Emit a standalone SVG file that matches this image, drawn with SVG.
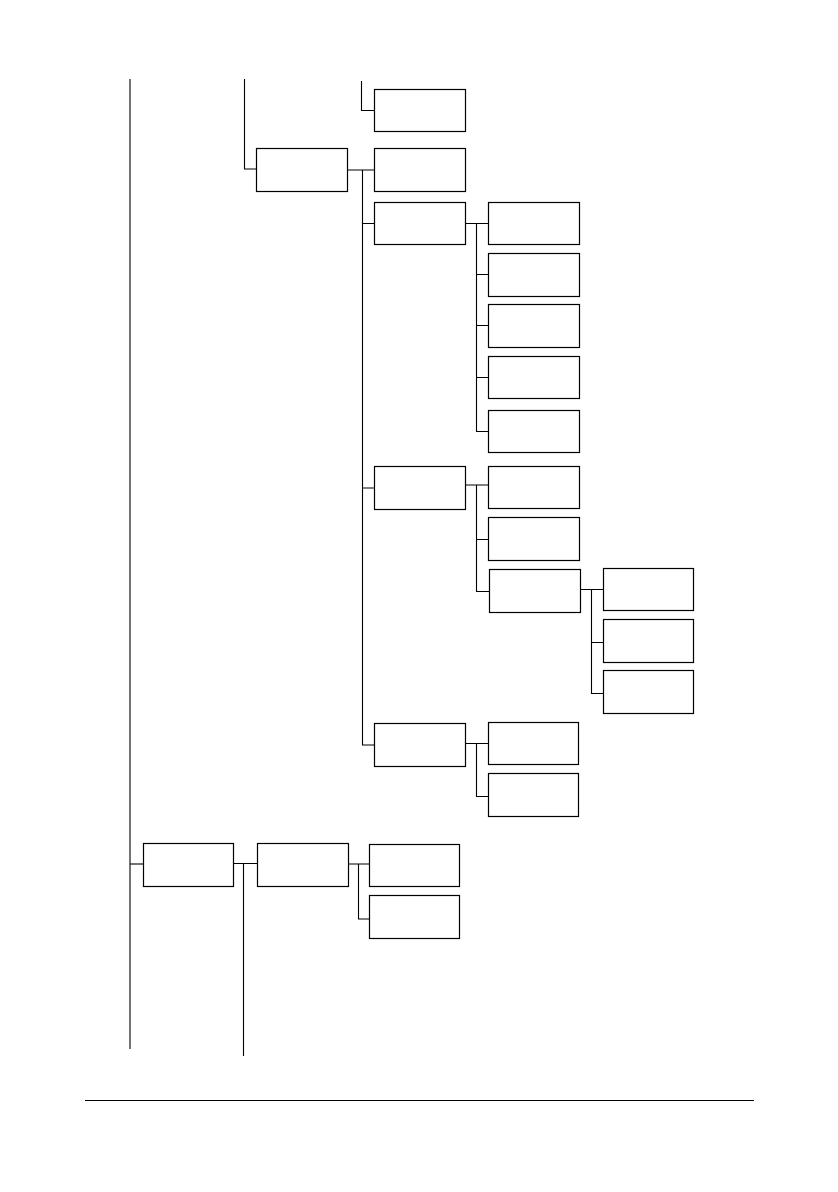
<svg xmlns="http://www.w3.org/2000/svg" width="838" height="1192" viewBox="0 0 838 1192">
<style>
.n rect{fill:#fff;stroke:#000;stroke-width:1.2}
#connectors path,#connectors line{fill:none;stroke:#000;stroke-width:1.1}
</style>
<rect width="838" height="1192" fill="#fff"/>
<g id="connectors">
<line x1="130" y1="79" x2="130" y2="1049"/>
<path d="M244.5 79 V169 H256.5"/>
<path d="M361.5 81 V110.5 H374.5"/>
<path d="M347.5 170 H374.5 M362.5 170 V745 H374.5 M362.5 223.5 H374.5 M362.5 488 H374.5"/>
<path d="M465.5 223.5 H488.5 M476.5 223.5 V431.5 H488.5 M476.5 274.5 H488.5 M476.5 325.5 H488.5 M476.5 377.5 H488.5"/>
<path d="M465.5 485 H488.5 M476.5 485 V591.5 H489.5 M476.5 539.5 H488.5"/>
<path d="M580.5 589.5 H603.5 M591.5 589.5 V693.5 H603.5 M591.5 642.5 H603.5"/>
<path d="M465.5 743.5 H488.5 M476.5 743.5 V796.5 H488.5"/>
<path d="M130 864 H143.5"/>
<path d="M233.5 863.5 H257.5 M243.5 863.5 V1056"/>
<path d="M347 864 H369.5 M358.5 864 V919 H369.5"/>
<line x1="85" y1="1100.5" x2="754" y2="1100.5"/>
</g>
<g id="n1" class="n"><rect x="374.5" y="89.5" width="91" height="42"/></g>
<g id="n2" class="n"><rect x="256.5" y="148.5" width="91" height="43"/></g>
<g id="n3" class="n"><rect x="374.5" y="148.5" width="91" height="43"/></g>
<g id="n4" class="n"><rect x="374.5" y="202.5" width="91" height="42"/></g>
<g id="n5" class="n"><rect x="488.5" y="202.5" width="91" height="42"/></g>
<g id="n6" class="n"><rect x="488.5" y="253.5" width="91" height="43"/></g>
<g id="n7" class="n"><rect x="488.5" y="304.5" width="91" height="43"/></g>
<g id="n8" class="n"><rect x="488.5" y="356.5" width="91" height="42"/></g>
<g id="n9" class="n"><rect x="488.5" y="410.5" width="91" height="42"/></g>
<g id="n10" class="n"><rect x="374.5" y="466.5" width="91" height="43"/></g>
<g id="n11" class="n"><rect x="488.5" y="466.5" width="91" height="42"/></g>
<g id="n12" class="n"><rect x="488.5" y="517.5" width="91" height="43"/></g>
<g id="n13" class="n"><rect x="489.5" y="569.5" width="91" height="43"/></g>
<g id="n14" class="n"><rect x="603.5" y="568.5" width="90" height="42"/></g>
<g id="n15" class="n"><rect x="603.5" y="619.5" width="90" height="43"/></g>
<g id="n16" class="n"><rect x="603.5" y="670.5" width="90" height="43"/></g>
<g id="n17" class="n"><rect x="374.5" y="723.5" width="91" height="43"/></g>
<g id="n18" class="n"><rect x="488.5" y="722.5" width="90" height="42"/></g>
<g id="n19" class="n"><rect x="488.5" y="773.5" width="90" height="43"/></g>
<g id="n20" class="n"><rect x="143.5" y="843.5" width="90" height="43"/></g>
<g id="n21" class="n"><rect x="257.5" y="843.5" width="91" height="43"/></g>
<g id="n22" class="n"><rect x="369.5" y="844.5" width="90" height="42"/></g>
<g id="n23" class="n"><rect x="369.5" y="895.5" width="90" height="43"/></g>
</svg>
